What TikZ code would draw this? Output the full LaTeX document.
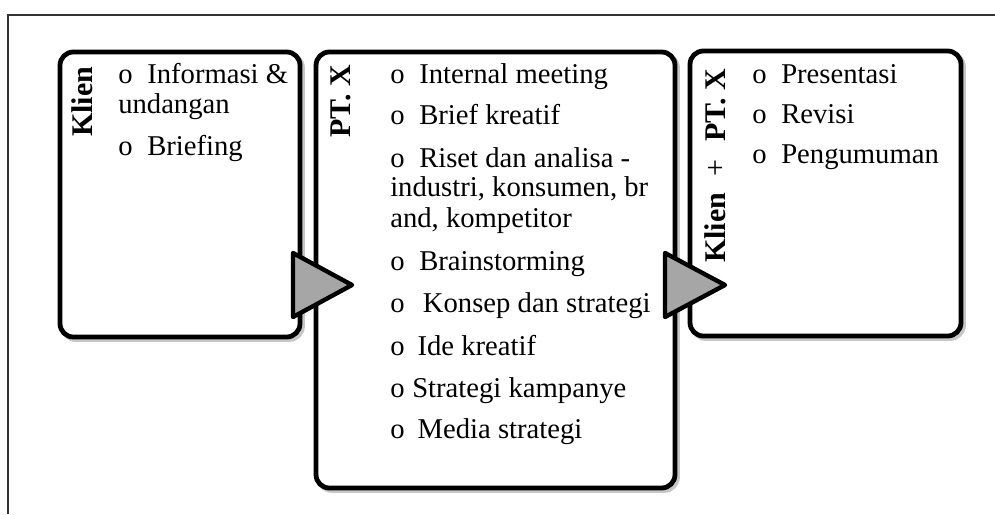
\documentclass[tikz,border=0pt]{standalone}
\usepackage{fontspec}
\setmainfont{Liberation Serif}
\begin{document}
\begin{tikzpicture}[x=0.75pt,y=-0.75pt,
  txt/.style={anchor=base west,inner sep=0pt,font=\fontsize{21.5pt}{22.5pt}\selectfont},
  lbl/.style={anchor=base west,inner sep=0pt,rotate=90,font=\fontsize{22.5pt}{23pt}\selectfont},
  stage/.style={line width=3.6pt,rounded corners=10pt,fill=white},
  stageshadow/.style={line width=3.6pt,rounded corners=10pt,draw=black!22},
  flow/.style={line width=3.3pt,line join=round,fill=black!35,draw=black}]
\newcommand\itm[2][21.75pt]{\makebox[#1][l]{o}#2}
\useasboundingbox (0,0) rectangle (995,514);
% page frame (top and left edges)
\draw[line width=1pt,draw=black!80] (8,514) -- (8,15) -- (995,15);

% stage boxes
\foreach \a/\b/\c/\d in {60/52/300/337, 316/52/675/488, 690/51/961/336}
  \draw[stageshadow] (\a+2.5,\b+2.5) rectangle (\c+2.5,\d+2.5);
\draw[stage] (60,52) rectangle (300,337);
\draw[stage] (316,52) rectangle (675,488);
\draw[stage] (690,51) rectangle (961,336);
\coordinate (s1) at (60,52);
\coordinate (s2) at (316,52);
\coordinate (s3) at (690,51);

% vertical stage labels
\node[lbl] (l1) at (92,137) {\textbf{Klien}};
\node[lbl] (l2) at (350,138) {\textbf{PT. X}};
\node[lbl] (l3) at (725,263) {\textbf{Klien}\hspace{12.5pt}+\hspace{13pt}\textbf{PT. X}};

% stage 1 items
\node[txt] (a1) at (118,83) {\itm{Informasi \&}};
\node[txt] (a1b) at (118,113) {undangan};
\node[txt] (a2) at (118,155) {\itm{Briefing}};

% stage 2 items
\node[txt] (b1) at (390,83) {\itm{Internal meeting}};
\node[txt] (b2) at (390,124) {\itm{Brief kreatif}};
\node[txt] (b3) at (390,167) {\itm{Riset dan analisa -}};
\node[txt] (b3b) at (390,196) {industri, konsumen, br};
\node[txt] (b3c) at (390,227) {and, kompetitor};
\node[txt] (b4) at (390,270) {\itm{Brainstorming}};
\node[txt] (b5) at (390,312) {\itm[24.5pt]{Konsep dan strategi}};
\node[txt] (b6) at (390,355) {\itm[20.5pt]{Ide kreatif}};
\node[txt] (b7) at (390,397) {\itm[16.5pt]{Strategi kampanye}};
\node[txt] (b8) at (390,438) {\itm[20.5pt]{Media strategi}};

% stage 3 items
\node[txt] (c1) at (752,83) {\itm{Presentasi}};
\node[txt] (c2) at (752,123) {\itm{Revisi}};
\node[txt] (c3) at (752,163) {\itm{Pengumuman}};

% flow triangles between stages
\draw[flow] (293,253) -- (352,285) -- (293,317) -- cycle;
\draw[flow] (665,253) -- (725,285) -- (665,317) -- cycle;
\end{tikzpicture}
\end{document}
